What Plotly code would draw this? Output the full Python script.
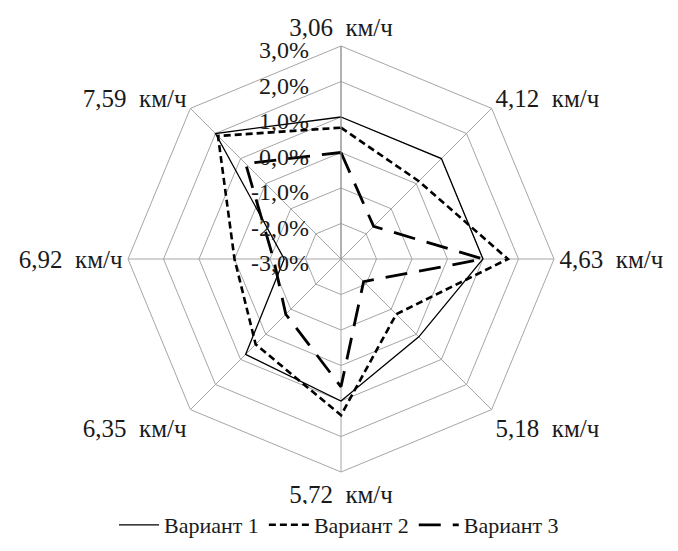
import plotly.graph_objects as go

# Walking speeds on the spokes, clockwise from the top
categories = ["3,06  км/ч", "4,12  км/ч", "4,63  км/ч", "5,18  км/ч",
              "5,72  км/ч", "6,35  км/ч", "6,92  км/ч", "7,59  км/ч"]

# Deviation, %
variant1 = [1.0, 1.0, 1.0, 0.1, 1.0, 0.8, -1.4, 2.0]
variant2 = [0.7, 0.1, 1.7, -0.8, 1.4, 0.4, 0.0, 1.9]
variant3 = [0.0, -1.7, 1.0, -2.1, 0.6, -0.8, -1.1, 0.8]

series_names = ["Вариант 1", "Вариант 2", "Вариант 3"]

tick_values = [-3, -2, -1, 0, 1, 2, 3]
tick_labels = ["-3,0%", "-2,0%", "-1,0%", "0,0%", "1,0%", "2,0%", "3,0%"]

styles = [
    dict(color="black", width=1.3, dash="solid"),
    dict(color="black", width=2.6, dash="7px,4px"),
    dict(color="black", width=2.8, dash="22px,12px"),
]

fig = go.Figure()
for name, vals, st in zip(series_names, [variant1, variant2, variant3], styles):
    fig.add_trace(go.Scatterpolar(
        r=vals + vals[:1],
        theta=categories + categories[:1],
        mode="lines",
        name=name,
        line=st,
    ))

grid = "#a6a6a6"
fig.update_layout(
    width=678, height=551,
    margin=dict(l=0, r=0, t=0, b=0),
    paper_bgcolor="white",
    font=dict(family="Liberation Serif", size=22, color="#1a1a1a"),
    polar=dict(
        domain=dict(x=[128 / 678, 554 / 678], y=[1 - 472 / 551, 1 - 46 / 551]),
        bgcolor="white",
        gridshape="linear",
        angularaxis=dict(
            rotation=90, direction="clockwise",
            showline=True, linecolor=grid, linewidth=1,
            showgrid=True, gridcolor=grid, gridwidth=1,
            ticks="", tickfont=dict(size=25),
        ),
        radialaxis=dict(
            range=[-3, 3], angle=90, side="counterclockwise",
            tickvals=tick_values, ticktext=tick_labels,
            tickfont=dict(size=24),
            showline=True, linecolor="#909090", linewidth=1,
            showgrid=True, gridcolor=grid, gridwidth=1,
            ticks="outside", ticklen=10, tickcolor="rgba(0,0,0,0)",
        ),
    ),
    legend=dict(
        orientation="h", x=0.5, xanchor="center", y=1 - 525 / 551, yanchor="middle",
        font=dict(size=22), itemwidth=40, tracegroupgap=0,
    ),
)

fig.write_html("out.html")
